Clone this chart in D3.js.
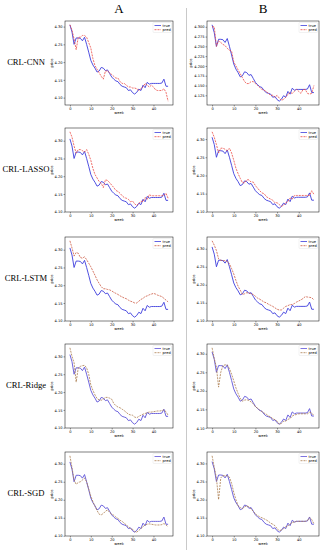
<!DOCTYPE html>
<html>
<head>
<meta charset="utf-8">
<script src="https://cdn.jsdelivr.net/npm/d3@7"></script>
<style>
  body { margin: 0; background: #fff; }
  .tick text { font-family: "DejaVu Sans", sans-serif; font-size: 3.6px; fill: #000; }
  .tick line { stroke: #000; stroke-width: 0.4; }
  .domain { display: none; }
</style>
</head>
<body>
<svg width="323" height="550"></svg>
<script>
// weekly price, same true series in every panel
var truePrice = [4.305,4.285,4.250,4.268,4.268,4.267,4.260,4.270,4.250,4.228,4.205,4.192,4.183,4.172,4.175,4.185,4.183,4.176,4.178,4.168,4.158,4.152,4.147,4.145,4.137,4.132,4.130,4.128,4.120,4.122,4.114,4.110,4.115,4.124,4.120,4.135,4.128,4.143,4.138,4.140,4.140,4.140,4.140,4.140,4.141,4.152,4.132,4.132];

// predictions, column A then column B for each model
var predCnnA = [4.305,4.290,4.265,4.235,4.270,4.270,4.275,4.275,4.270,4.255,4.240,4.210,4.190,4.180,4.170,4.160,4.152,4.175,4.175,4.170,4.165,4.160,4.155,4.155,4.145,4.140,4.140,4.135,4.130,4.130,4.127,4.127,4.125,4.120,4.125,4.130,4.140,4.135,4.130,4.135,4.130,4.122,4.120,4.120,4.120,4.125,4.115,4.090];
var predCnnB = [4.300,4.300,4.250,4.264,4.260,4.255,4.252,4.245,4.240,4.238,4.210,4.200,4.190,4.180,4.170,4.160,4.155,4.155,4.160,4.160,4.155,4.150,4.145,4.140,4.138,4.135,4.130,4.125,4.125,4.120,4.125,4.118,4.112,4.115,4.120,4.128,4.132,4.130,4.135,4.140,4.135,4.130,4.140,4.140,4.130,4.128,4.130,4.150];
var predLassoA = [4.325,4.310,4.285,4.265,4.275,4.275,4.272,4.268,4.275,4.262,4.245,4.222,4.205,4.195,4.185,4.180,4.168,4.190,4.188,4.182,4.175,4.168,4.160,4.157,4.152,4.145,4.140,4.138,4.135,4.128,4.130,4.122,4.118,4.123,4.130,4.128,4.140,4.135,4.148,4.145,4.145,4.145,4.145,4.145,4.145,4.146,4.152,4.138];
var predLassoB = [4.320,4.305,4.285,4.262,4.275,4.275,4.272,4.268,4.275,4.262,4.242,4.220,4.205,4.192,4.180,4.180,4.188,4.188,4.182,4.182,4.172,4.165,4.158,4.152,4.150,4.142,4.138,4.135,4.132,4.125,4.125,4.120,4.115,4.118,4.125,4.128,4.138,4.135,4.145,4.145,4.145,4.145,4.145,4.145,4.145,4.145,4.158,4.148];
var predLstmA = [4.325,4.305,4.282,4.292,4.290,4.278,4.276,4.280,4.272,4.262,4.252,4.240,4.228,4.215,4.205,4.196,4.190,4.190,4.188,4.187,4.184,4.180,4.177,4.174,4.170,4.167,4.164,4.162,4.158,4.155,4.153,4.150,4.150,4.155,4.160,4.163,4.168,4.170,4.173,4.175,4.177,4.175,4.172,4.170,4.168,4.163,4.158,4.153];
var predLstmB = [4.322,4.310,4.295,4.272,4.268,4.267,4.267,4.265,4.258,4.245,4.230,4.212,4.196,4.185,4.173,4.175,4.178,4.177,4.175,4.173,4.168,4.163,4.160,4.156,4.152,4.150,4.146,4.143,4.140,4.136,4.132,4.130,4.130,4.135,4.140,4.142,4.145,4.145,4.148,4.152,4.155,4.158,4.162,4.167,4.166,4.165,4.164,4.158];
var predRidgeA = [4.324,4.300,4.282,4.228,4.268,4.272,4.274,4.275,4.268,4.250,4.220,4.205,4.192,4.182,4.178,4.177,4.180,4.185,4.185,4.183,4.180,4.168,4.162,4.158,4.156,4.152,4.148,4.143,4.138,4.136,4.135,4.130,4.128,4.132,4.135,4.138,4.140,4.142,4.144,4.144,4.145,4.146,4.147,4.147,4.148,4.150,4.145,4.135];
var predRidgeB = [4.316,4.287,4.264,4.210,4.250,4.268,4.270,4.270,4.260,4.245,4.227,4.208,4.193,4.180,4.172,4.175,4.176,4.174,4.170,4.165,4.157,4.153,4.148,4.144,4.140,4.137,4.132,4.130,4.125,4.122,4.118,4.110,4.112,4.118,4.118,4.123,4.125,4.132,4.135,4.136,4.138,4.138,4.138,4.138,4.138,4.142,4.140,4.133];
var predSgdA = [4.322,4.289,4.255,4.243,4.248,4.250,4.255,4.260,4.250,4.230,4.210,4.195,4.182,4.170,4.160,4.158,4.162,4.168,4.172,4.165,4.160,4.157,4.152,4.148,4.143,4.140,4.135,4.130,4.125,4.120,4.118,4.112,4.110,4.115,4.120,4.125,4.130,4.132,4.133,4.132,4.131,4.130,4.130,4.130,4.131,4.134,4.130,4.125];
var predSgdB = [4.321,4.289,4.260,4.200,4.260,4.266,4.266,4.266,4.262,4.245,4.220,4.200,4.183,4.178,4.175,4.180,4.183,4.180,4.174,4.168,4.160,4.156,4.152,4.150,4.147,4.144,4.140,4.135,4.132,4.128,4.120,4.114,4.116,4.120,4.125,4.128,4.132,4.137,4.138,4.140,4.140,4.140,4.140,4.140,4.142,4.150,4.145,4.133];

var models = ["CRL-CNN", "CRL-LASSO", "CRL-LSTM", "CRL-Ridge", "CRL-SGD"];
var columns = ["A", "B"];
var xTicks = [0, 10, 20, 30, 40];
var yTicksWide = [4.10, 4.15, 4.20, 4.25, 4.30];
var yTicksFine = [4.125, 4.150, 4.175, 4.200, 4.225, 4.250, 4.275, 4.300];

var preds = [
  [predCnnA, predCnnB],
  [predLassoA, predLassoB],
  [predLstmA, predLstmB],
  [predRidgeA, predRidgeB],
  [predSgdA, predSgdB]
];

// layout
var colLeft = [65, 207], colWidth = [108, 112];
var rowTop = [21, 128, 237, 344, 452], panelH = 84;
var trueColor = ["#3c3cdc", "#3c3cdc", "#3c3cdc", "#5e52d8", "#5e52d8"];
var predColor = ["#ec4a44", "#ec4a44", "#cc5840", "#ab7c4e", "#ab7c4e"];

var svg = d3.select("svg");

// column titles
svg.selectAll(".coltitle")
  .data(columns)
  .enter().append("text")
  .attr("x", function (d, i) { return colLeft[i] + colWidth[i] / 2; })
  .attr("y", 13)
  .attr("text-anchor", "middle")
  .style("font-family", "'Liberation Serif', serif")
  .style("font-size", "13px")
  .text(function (d) { return d; });

// divider between the columns
svg.append("line")
  .attr("x1", 186.5).attr("x2", 186.5)
  .attr("y1", 8).attr("y2", 550)
  .attr("stroke", "#bbb").attr("stroke-width", 0.8);

// model names on the left
svg.selectAll(".rowlabel")
  .data(models)
  .enter().append("text")
  .attr("x", 26)
  .attr("y", function (d, i) { return rowTop[i] + panelH / 2 + 2; })
  .attr("text-anchor", "middle")
  .style("font-family", "'Liberation Serif', serif")
  .style("font-size", "8.6px")
  .text(function (d) { return d; });

models.forEach(function (m, r) {
  columns.forEach(function (c, k) {
    var fine = (r === 0 && k === 1);
    drawPanel(colLeft[k], rowTop[r], colWidth[k], panelH, preds[r][k],
      fine ? yTicksFine : yTicksWide, fine ? d3.format(".3f") : d3.format(".2f"),
      trueColor[r], predColor[r]);
  });
});

function drawPanel(left, top, w, h, pred, yTicks, fmt, cTrue, cPred) {
  var g = svg.append("g").attr("transform", "translate(" + left + "," + top + ")");

  var n = truePrice.length;
  var x = d3.scaleLinear().domain([-0.05 * (n - 1), 1.05 * (n - 1)]).range([0, w]);
  var ext = d3.extent(truePrice.concat(pred));
  var pad = (ext[1] - ext[0]) * 0.05;
  var y = d3.scaleLinear().domain([ext[0] - pad, ext[1] + pad]).range([h, 0]);

  g.append("g")
    .attr("transform", "translate(0," + h + ")")
    .call(d3.axisBottom(x).tickValues(xTicks).tickSize(1.5).tickPadding(1).tickFormat(d3.format("d")));

  g.append("g")
    .call(d3.axisLeft(y).tickValues(yTicks).tickSize(1.5).tickPadding(1).tickFormat(fmt));

  g.append("text")
    .attr("x", w / 2).attr("y", h + 9)
    .attr("text-anchor", "middle")
    .style("font-family", "'DejaVu Sans', sans-serif")
    .style("font-size", "3.6px")
    .text("week");

  g.append("text")
    .attr("transform", "translate(" + (yTicks.length > 5 ? -15 : -12) + "," + (h / 2) + ") rotate(-90)")
    .attr("text-anchor", "middle")
    .style("font-family", "'DejaVu Sans', sans-serif")
    .style("font-size", "3.6px")
    .text("price");

  var line = d3.line()
    .x(function (d, i) { return x(i); })
    .y(function (d) { return y(d); });

  g.append("path")
    .datum(truePrice)
    .attr("fill", "none")
    .attr("stroke", cTrue)
    .attr("stroke-width", 0.9)
    .attr("d", line);

  g.append("path")
    .datum(pred)
    .attr("fill", "none")
    .attr("stroke", cPred)
    .attr("stroke-width", 0.8)
    .attr("stroke-dasharray", "2,1")
    .attr("d", line);

  g.append("rect")
    .attr("width", w).attr("height", h)
    .attr("fill", "none")
    .attr("stroke", "#000")
    .attr("stroke-width", 0.5);

  // legend
  var lg = g.append("g").attr("transform", "translate(" + (w - 20) + ",1.5)");
  lg.append("rect")
    .attr("width", 18.5).attr("height", 10)
    .attr("rx", 0.8)
    .attr("fill", "#fff").attr("fill-opacity", 0.8)
    .attr("stroke", "#ddd").attr("stroke-width", 0.4);
  var items = [["true", cTrue, null], ["pred", cPred, "2,1"]];
  items.forEach(function (it, i) {
    lg.append("line")
      .attr("x1", 1.5).attr("x2", 8)
      .attr("y1", 3 + i * 4.2).attr("y2", 3 + i * 4.2)
      .attr("stroke", it[1]).attr("stroke-width", 0.8)
      .attr("stroke-dasharray", it[2]);
    lg.append("text")
      .attr("x", 9.5).attr("y", 4.3 + i * 4.2)
      .style("font-family", "'DejaVu Sans', sans-serif")
      .style("font-size", "3.6px")
      .text(it[0]);
  });
}
</script>
</body>
</html>
